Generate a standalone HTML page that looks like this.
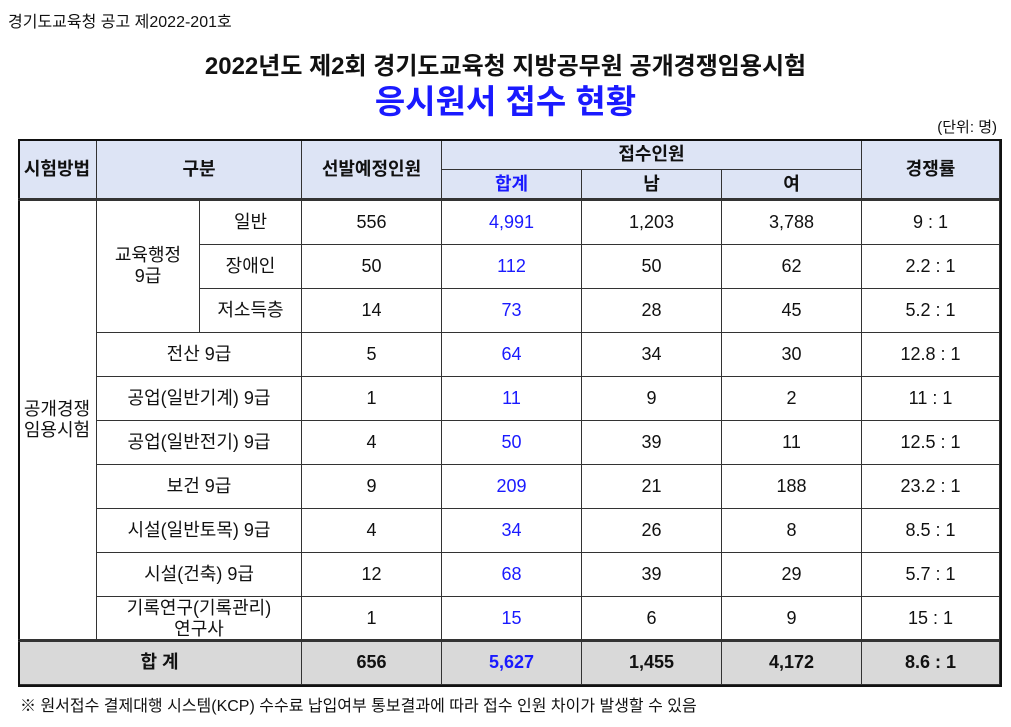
<!DOCTYPE html>
<html><head><meta charset="utf-8">
<style>
body{margin:0;width:1011px;height:727px;background:#fff;position:relative;overflow:hidden;font-family:"Liberation Sans","Noto Sans CJK KR",sans-serif;color:#111}
.a{position:absolute}
.c{position:absolute;display:flex;align-items:center;justify-content:center;text-align:center;box-sizing:border-box;border-right:1px solid #333;border-bottom:1px solid #333;font-size:18px;line-height:21px}
.h{background:#dde4f5;font-weight:bold}
.b{color:#1a1aff}
.t{background:#d9d9d9;font-weight:bold}
</style></head><body>
<div class="a" style="left:8px;top:8px;font-size:16px">경기도교육청 공고 제2022-201호</div>
<div class="a" style="left:0;width:1011px;top:46px;text-align:center;font-size:24px;font-weight:bold">2022년도 제2회 경기도교육청 지방공무원 공개경쟁임용시험</div>
<div class="a" style="left:0;width:1011px;top:75px;text-align:center;font-size:33px;font-weight:bold;color:#1a1aff">응시원서 접수 현황</div>
<div class="a" style="right:14px;top:116px;font-size:15px">(단위: 명)</div>
<div id="tbl"></div>
<div class="a" style="left:20px;top:692px;font-size:16px">※ 원서접수 결제대행 시스템(KCP) 수수료 납입여부 통보결과에 따라 접수 인원 차이가 발생할 수 있음</div>
<div class="a" style="left:18px;top:139px;width:980px;height:544px;border:2px solid #111;pointer-events:none"></div>
<div class="a" style="left:18px;top:198px;width:982px;height:1px;border-top:1px solid #333;border-bottom:1px solid #333"></div>
<div class="a" style="left:18px;top:639px;width:982px;height:1px;border-top:1px solid #333;border-bottom:1px solid #333"></div>
<script>
const X=[18,97,200,302,442,582,722,862,1000];
const Y=[200,245,289,333,377,421,465,509,553,597,641,685];
const cats=["일반","장애인","저소득층","전산 9급","공업(일반기계) 9급","공업(일반전기) 9급","보건 9급","시설(일반토목) 9급","시설(건축) 9급","기록연구(기록관리)<br>연구사"];
const planned=["556","50","14","5","1","4","9","4","12","1"];
const total=["4,991","112","73","64","11","50","209","34","68","15"];
const male=["1,203","50","28","34","9","39","21","26","39","6"];
const female=["3,788","62","45","30","2","11","188","8","29","9"];
const ratio=["9 : 1","2.2 : 1","5.2 : 1","12.8 : 1","11 : 1","12.5 : 1","23.2 : 1","8.5 : 1","5.7 : 1","15 : 1"];
const sums=["656","5,627","1,455","4,172","8.6 : 1"];
const T=document.getElementById('tbl');
function cell(x0,y0,x1,y1,html,cls,name){const d=document.createElement('div');d.className='c '+(cls||'');d.style.left=x0+'px';d.style.top=y0+'px';d.style.width=(x1-x0)+'px';d.style.height=(y1-y0)+'px';d.innerHTML=html;


T.appendChild(d);}
cell(X[0],139,X[1],200,'시험방법','h','header-exam-method');
cell(X[1],139,X[3],200,'구분','h','header-category');
cell(X[3],139,X[4],200,'선발예정인원','h','header-planned');
cell(X[4],139,X[7],170,'접수인원','h','header-applicants');
cell(X[4],170,X[5],200,'<span class="b">합계</span>','h','header-total');
cell(X[5],170,X[6],200,'남','h','header-male');
cell(X[6],170,X[7],200,'여','h','header-female');
cell(X[7],139,X[8],200,'경쟁률','h','header-ratio');
cell(X[0],Y[0],X[1],Y[10],'공개경쟁<br>임용시험','','exam-method-open');
cell(X[1],Y[0],X[2],Y[3],'교육행정<br>9급','','group-admin');
for(let i=0;i<cats.length;i++){
 if(i<3)cell(X[2],Y[i],X[3],Y[i+1],cats[i],'','category-'+i);
 else cell(X[1],Y[i],X[3],Y[i+1],cats[i],'','category-'+i);
 cell(X[3],Y[i],X[4],Y[i+1],planned[i],'','planned-'+i);
 cell(X[4],Y[i],X[5],Y[i+1],total[i],'b','total-'+i);
 cell(X[5],Y[i],X[6],Y[i+1],male[i],'','male-'+i);
 cell(X[6],Y[i],X[7],Y[i+1],female[i],'','female-'+i);
 cell(X[7],Y[i],X[8],Y[i+1],ratio[i],'','ratio-'+i);
}
cell(X[0],Y[10],X[3],Y[11],'합 계','t','sum-label');
for(let j=0;j<5;j++)cell(X[3+j],Y[10],X[4+j],Y[11],sums[j],'t'+(j==1?' b':''),'sum-'+j);
</script>
</body></html>
